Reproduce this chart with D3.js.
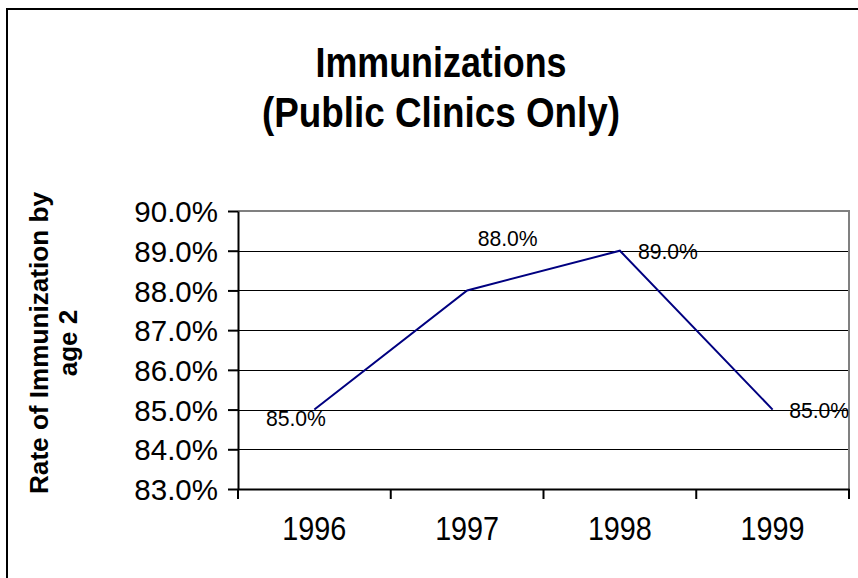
<!DOCTYPE html>
<html>
<head>
<meta charset="utf-8">
<script src="https://cdn.jsdelivr.net/npm/d3@7"></script>
<style>
  html, body { margin: 0; padding: 0; background: #fff; }
  svg { display: block; font-family: "Liberation Sans", Arial, sans-serif; }
</style>
</head>
<body>
<svg id="chart" width="858" height="578"></svg>
<script>
// ---- data ----
const years = ["1996", "1997", "1998", "1999"];
const rates = [85.0, 88.0, 89.0, 85.0];
const yTickValues = [83, 84, 85, 86, 87, 88, 89, 90];
const titleLines = ["Immunizations", "(Public Clinics Only)"];
const yTitleLines = ["Rate of Immunization by", "age 2"];

// ---- layout ----
const svg = d3.select("#chart");
const plot = { left: 238, right: 849, top: 211, bottom: 489 };

// outer frame
svg.append("rect")
  .attr("x", 7).attr("y", 9)
  .attr("width", 900).attr("height", 620)
  .attr("fill", "#fff").attr("stroke", "#000").attr("stroke-width", 2);

const x = d3.scaleBand().domain(years).range([plot.left, plot.right]).padding(0);
const y = d3.scaleLinear().domain([83, 90]).range([plot.bottom, plot.top]);
const crisp = v => Math.round(v) + 0.5;

// gridlines
svg.append("g").selectAll("line")
  .data(yTickValues.filter(v => v > 83 && v < 90))
  .join("line")
  .attr("x1", plot.left).attr("x2", plot.right)
  .attr("y1", d => crisp(y(d))).attr("y2", d => crisp(y(d)))
  .attr("stroke", "#000").attr("stroke-width", 1.2);

// plot area border top/right (gray)
svg.append("path")
  .attr("d", `M${plot.left},${y(90)}H${plot.right}V${plot.bottom}`)
  .attr("fill", "none").attr("stroke", "#808080").attr("stroke-width", 2);

// y axis
const yAxis = d3.axisLeft(y)
  .tickValues(yTickValues)
  .tickFormat(d => d3.format(".1f")(d) + "%")
  .tickSizeInner(10).tickSizeOuter(0).tickPadding(10);
const gy = svg.append("g").attr("transform", `translate(${plot.left},0)`).call(yAxis);
gy.select(".domain").attr("stroke", "#000").attr("stroke-width", 2);
gy.selectAll(".tick line").attr("stroke", "#000").attr("stroke-width", 2);
gy.selectAll(".tick text")
  .attr("font-size", 29.5).attr("fill", "#000")
  .attr("font-family", "Liberation Sans, Arial, sans-serif")
  .attr("dy", "0.36em");

// x axis (ticks at category boundaries)
const xAxis = d3.axisBottom(x).tickSize(0).tickSizeOuter(0).tickPadding(36);
const gx = svg.append("g").attr("transform", `translate(0,${plot.bottom})`).call(xAxis);
gx.select(".domain").attr("stroke", "#000").attr("stroke-width", 2);
gx.selectAll(".tick text")
  .attr("font-size", 33).attr("fill", "#000")
  .attr("font-family", "Liberation Sans, Arial, sans-serif")
  .attr("textLength", 64).attr("lengthAdjust", "spacingAndGlyphs")
  .attr("dy", "0.45em");
const boundaries = years.map(d => x(d)).concat([x(years[years.length - 1]) + x.bandwidth()]);
svg.append("g").selectAll("line")
  .data(boundaries).join("line")
  .attr("x1", d => d).attr("x2", d => d)
  .attr("y1", plot.bottom).attr("y2", plot.bottom + 10)
  .attr("stroke", "#000").attr("stroke-width", 2);

// line series
const pts = years.map((yr, i) => ({ yr, v: rates[i] }));
const line = d3.line().x(d => x(d.yr) + x.bandwidth() / 2).y(d => y(d.v));
svg.append("path")
  .datum(pts)
  .attr("d", line)
  .attr("fill", "none").attr("stroke", "#000080").attr("stroke-width", 2);

// data labels (offsets relative to each point)
const labelOffsets = [[-48.5, 16.5], [10.5, -44], [18, 8], [16.5, 8.5]];
svg.append("g").selectAll("text")
  .data(pts).join("text")
  .attr("x", (d, i) => x(d.yr) + x.bandwidth() / 2 + labelOffsets[i][0])
  .attr("y", (d, i) => y(d.v) + labelOffsets[i][1])
  .attr("font-size", 22).attr("fill", "#000")
  .attr("textLength", 60).attr("lengthAdjust", "spacingAndGlyphs")
  .text(d => d3.format(".1f")(d.v) + "%");

// title
const titleLens = [251, 358];
const titleBaselines = [76.7, 127];
svg.append("g").selectAll("text")
  .data(titleLines).join("text")
  .attr("x", 441).attr("y", (d, i) => titleBaselines[i])
  .attr("text-anchor", "middle")
  .attr("font-size", 43).attr("font-weight", "bold").attr("fill", "#000")
  .attr("textLength", (d, i) => titleLens[i]).attr("lengthAdjust", "spacingAndGlyphs")
  .text(d => d);

// y axis title
const yTitleX = [47.7, 76.5];
svg.append("g").selectAll("text")
  .data(yTitleLines).join("text")
  .attr("transform", (d, i) => `translate(${yTitleX[i]},343) rotate(-90)`)
  .attr("text-anchor", "middle")
  .attr("font-size", 26).attr("font-weight", "bold").attr("fill", "#000")
  .attr("textLength", (d, i) => i === 0 ? 302 : null)
  .attr("lengthAdjust", "spacingAndGlyphs")
  .text(d => d);
</script>
</body>
</html>
